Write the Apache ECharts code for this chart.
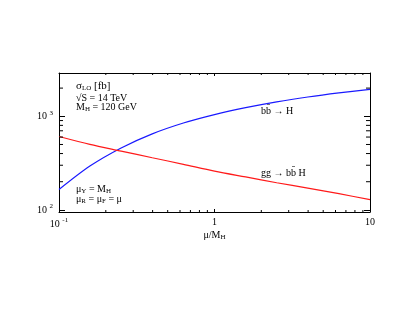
<!DOCTYPE html>
<html>
<head>
<meta charset="utf-8">
<script src="https://cdn.jsdelivr.net/npm/echarts@6/dist/echarts.min.js"></script>
<style>
html,body{margin:0;padding:0;background:#fff;}
#c{width:409px;height:327px;}
</style>
</head>
<body>
<div id="c"></div>
<script>
// mu / M_H values and LO cross sections [fb]
const muValues = [0.1, 0.158, 0.251, 0.398, 0.631, 1, 1.585, 2.512, 3.981, 6.31, 10];
const sigmaBB = [165, 294, 459, 649, 847, 1042, 1236, 1426, 1607, 1778, 1941];
const sigmaGG = [609, 501, 425, 361, 307, 260, 225, 195, 171, 149, 129];

const xMinorTicks = [0.2,0.3,0.4,0.5,0.6,0.7,0.8,0.9,2,3,4,5,6,7,8,9];
const yMinorTicks = [200,300,400,500,600,700,800,900,2000];

const FONT = '"Liberation Serif", "DejaVu Serif", serif';

const chart = echarts.init(document.getElementById('c'), null, {renderer:'canvas'});

function pow10Label(v){
  const e = Math.log10(v);
  const r = Math.round(e);
  if (Math.abs(e - r) > 1e-6) return '';
  if (r === 0) return '1';
  if (r === 1) return '10';
  return '10 {s|' + r + '}';
}
const supRich = { s: { fontSize: 7, fontFamily: FONT, color:'#000', padding:[0,0,7,0] } };
const subRich = {
  sub: { fontSize: 7, fontFamily: FONT, color:'#000', padding:[5,0,0,0] }
};

function minorTickSeries(vals, dim, lenA, lenB){
  return {
    type:'custom', coordinateSystem:'cartesian2d', silent:true, z:5,
    xAxisIndex:0, yAxisIndex:0,
    data: vals.map(v => dim === 'x' ? [v, 1000] : [1, v]),
    renderItem(params, api){
      const cs = params.coordSys;
      const p = api.coord([api.value(0), api.value(1)]);
      const st = {stroke:'#000', lineWidth:1};
      if (dim === 'x'){
        const x = p[0];
        return {type:'group', children:[
          {type:'line', shape:{x1:x, y1:cs.y+cs.height, x2:x, y2:cs.y+cs.height-lenA}, style:st},
          {type:'line', shape:{x1:x, y1:cs.y, x2:x, y2:cs.y+lenA}, style:st}
        ]};
      } else {
        const y = p[1];
        return {type:'group', children:[
          {type:'line', shape:{x1:cs.x, y1:y, x2:cs.x+lenB, y2:y}, style:st},
          {type:'line', shape:{x1:cs.x+cs.width, y1:y, x2:cs.x+cs.width-lenB, y2:y}, style:st}
        ]};
      }
    }
  };
}

const axisLineStyle = {show:true, lineStyle:{color:'#000', width:1}};

const option = {
  animation:false,
  backgroundColor:'#fff',
  grid:{left:59, right:39, top:73, bottom:115, containLabel:false},
  xAxis:[
    {type:'log', logBase:10, min:0.1, max:10, position:'bottom',
     axisLine:axisLineStyle,
     axisTick:{show:true, inside:true, length:3, lineStyle:{color:'#000'}},
     axisLabel:{formatter:pow10Label, fontFamily:FONT, fontSize:10, color:'#000', margin:5, rich:supRich},
     splitLine:{show:false},
     name:'μ/M{sub|H}', nameLocation:'middle', nameGap:15,
     nameTextStyle:{fontFamily:FONT, fontSize:10, color:'#000', rich:subRich}
    },
    {type:'log', logBase:10, min:0.1, max:10, position:'top',
     axisLine:axisLineStyle,
     axisTick:{show:true, inside:true, length:3, lineStyle:{color:'#000'}},
     axisLabel:{show:false}, splitLine:{show:false}
    }
  ],
  yAxis:[
    {type:'log', logBase:10, min:95, max:2900, position:'left',
     axisLine:axisLineStyle,
     axisTick:{show:true, inside:true, length:6, lineStyle:{color:'#000'}},
     axisLabel:{formatter:pow10Label, fontFamily:FONT, fontSize:10, color:'#000', margin:6, rich:supRich},
     splitLine:{show:false}
    },
    {type:'log', logBase:10, min:95, max:2900, position:'right',
     axisLine:axisLineStyle,
     axisTick:{show:true, inside:true, length:6, lineStyle:{color:'#000'}},
     axisLabel:{show:false}, splitLine:{show:false}
    }
  ],
  series:[
    {name:'bb→H', type:'line', xAxisIndex:0, yAxisIndex:0, smooth:0.3, showSymbol:false,
     data: muValues.map((m,i)=>[m, sigmaBB[i]]),
     lineStyle:{color:'#1a1aff', width:1.2}, z:3},
    {name:'gg→bbH', type:'line', xAxisIndex:0, yAxisIndex:0, smooth:0.3, showSymbol:false,
     data: muValues.map((m,i)=>[m, sigmaGG[i]]),
     lineStyle:{color:'#ff1a1a', width:1.2}, z:3},
    minorTickSeries(xMinorTicks, 'x', 2, 4),
    minorTickSeries(yMinorTicks, 'y', 2, 4)
  ],
  graphic:[
    {type:'text', x:76, y:86, style:{text:'σ{sub|LO} [fb]', font:'11px '+FONT, fill:'#000', verticalAlign:'middle',
      rich:{sub:{fontSize:7, fontFamily:FONT, fill:'#000', padding:[5,0,0,0]}}}},
    {type:'text', x:76, y:98, style:{text:'√S = 14 TeV', font:'10px '+FONT, fill:'#000', verticalAlign:'middle'}},
    {type:'text', x:76, y:107, style:{text:'M{sub|H} = 120 GeV', font:'10px '+FONT, fill:'#000', verticalAlign:'middle',
      rich:{sub:{fontSize:7, fontFamily:FONT, fill:'#000', padding:[5,0,0,0]}}}},
    {type:'text', x:76, y:189, style:{text:'μ{sub|Y} = M{sub|H}', font:'10px '+FONT, fill:'#000', verticalAlign:'middle',
      rich:{sub:{fontSize:7, fontFamily:FONT, fill:'#000', padding:[5,0,0,0]}}}},
    {type:'text', x:76, y:199, style:{text:'μ{sub|R} = μ{sub|F} = μ', font:'10px '+FONT, fill:'#000', verticalAlign:'middle',
      rich:{sub:{fontSize:7, fontFamily:FONT, fill:'#000', padding:[5,0,0,0]}}}},
    {type:'text', x:261, y:111, style:{text:'bb\u0304 \u2192 H', font:'10px '+FONT, fill:'#000', verticalAlign:'middle'}},
    {type:'text', x:261, y:173, style:{text:'gg \u2192 bb\u0304 H', font:'10px '+FONT, fill:'#000', verticalAlign:'middle'}}
  ]
};
chart.setOption(option);
</script>
</body>
</html>
